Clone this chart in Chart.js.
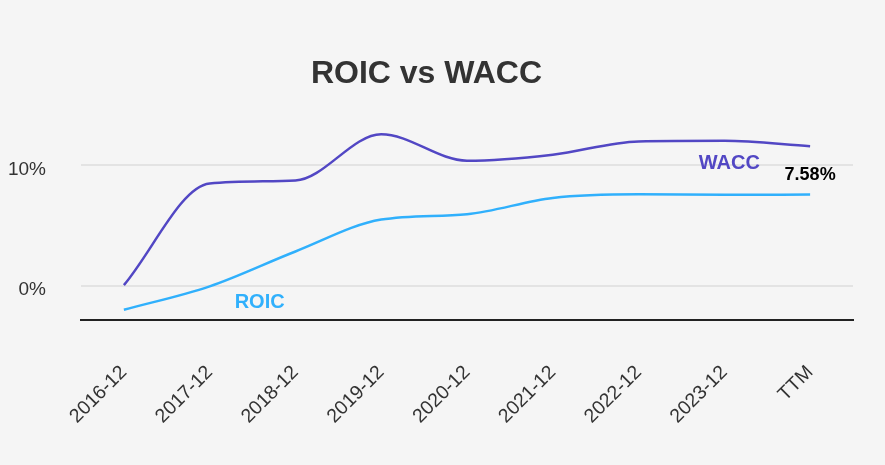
<!DOCTYPE html>
<html>
<head>
<meta charset="utf-8">
<script src="https://cdn.jsdelivr.net/npm/chart.js@4.4.1/dist/chart.umd.min.js"></script>
<style>
  html, body { margin: 0; padding: 0; background: #f5f5f5; }
  #wrap { width: 885px; height: 465px; position: relative; }
</style>
</head>
<body>
<div id="wrap"><canvas id="chart"></canvas></div>
<script>
const categories = ["2016-12", "2017-12", "2018-12", "2019-12", "2020-12", "2021-12", "2022-12", "2023-12", "TTM"];
const wacc = [0.05, 8.5, 8.75, 12.6, 10.4, 10.9, 12.0, 12.05, 11.6];
const roic = [-2.0, -0.05, 2.85, 5.5, 5.95, 7.3, 7.6, 7.56, 7.58];
const yTicks = [0, 10];

const waccColor = "#5247c4";
const roicColor = "#30b0fc";
const textColor = "#333333";

// series names and last value written next to the lines
const lineLabels = {
  id: "lineLabels",
  afterDatasetsDraw(chart) {
    const { ctx, scales: { x, y } } = chart;
    const last = roic.length - 1;
    ctx.save();
    ctx.textAlign = "center";
    ctx.textBaseline = "middle";
    ctx.font = "bold 20px 'Liberation Sans', Arial, sans-serif";
    ctx.fillStyle = waccColor;
    ctx.fillText("WACC", x.getPixelForValue(7) + 5, y.getPixelForValue(wacc[7]) + 23);
    ctx.fillStyle = roicColor;
    ctx.fillText("ROIC", x.getPixelForValue(1) + 50, y.getPixelForValue(roic[1]) + 16);
    ctx.fillStyle = "#000";
    ctx.font = "bold 18px 'Liberation Sans', Arial, sans-serif";
    ctx.fillText(roic[last].toFixed(2) + "%", x.getPixelForValue(last), y.getPixelForValue(roic[last]) - 20);
    ctx.restore();
  }
};

new Chart(document.getElementById("chart"), {
  type: "line",
  data: {
    labels: categories,
    datasets: [
      {
        label: "WACC",
        data: wacc,
        borderColor: waccColor,
        borderWidth: 2.5,
        pointRadius: 0,
        cubicInterpolationMode: "monotone",
        fill: false,
      },
      {
        label: "ROIC",
        data: roic,
        borderColor: roicColor,
        borderWidth: 2.5,
        pointRadius: 0,
        cubicInterpolationMode: "monotone",
        fill: false,
      },
    ],
  },
  options: {
    responsive: true,
    maintainAspectRatio: false,
    animation: false,
    layout: { padding: { left: 0, right: 32, top: 0, bottom: 0 } },
    plugins: {
      legend: { display: false },
      tooltip: { enabled: false },
      title: {
        display: true,
        text: "ROIC vs WACC",
        color: textColor,
        font: { family: "'Liberation Sans', Arial, sans-serif", size: 32, weight: "bold" },
        padding: { top: 55, bottom: 30 },
      },
    },
    scales: {
      x: {
        offset: true,
        grid: { display: false, drawTicks: false },
        border: { display: true, color: "#222", width: 2 },
        ticks: {
          color: textColor,
          font: { family: "'Liberation Sans', Arial, sans-serif", size: 19.5 },
          maxRotation: 45,
          minRotation: 45,
          padding: 41,
        },
        afterFit: (s) => { s.height = 145; },
      },
      y: {
        min: -2.85,
        max: 13.5,
        grid: { color: "#e3e3e3", lineWidth: 2, drawTicks: false },
        border: { display: false },
        ticks: {
          color: textColor,
          font: { family: "'Liberation Sans', Arial, sans-serif", size: 19 },
          padding: 35,
          labelOffset: 4,
          callback: (v) => v + "%",
        },
        afterBuildTicks: (s) => { s.ticks = yTicks.map((v) => ({ value: v })); },
        afterFit: (s) => { s.width = 81; },
      },
    },
  },
  plugins: [lineLabels],
});
</script>
</body>
</html>
